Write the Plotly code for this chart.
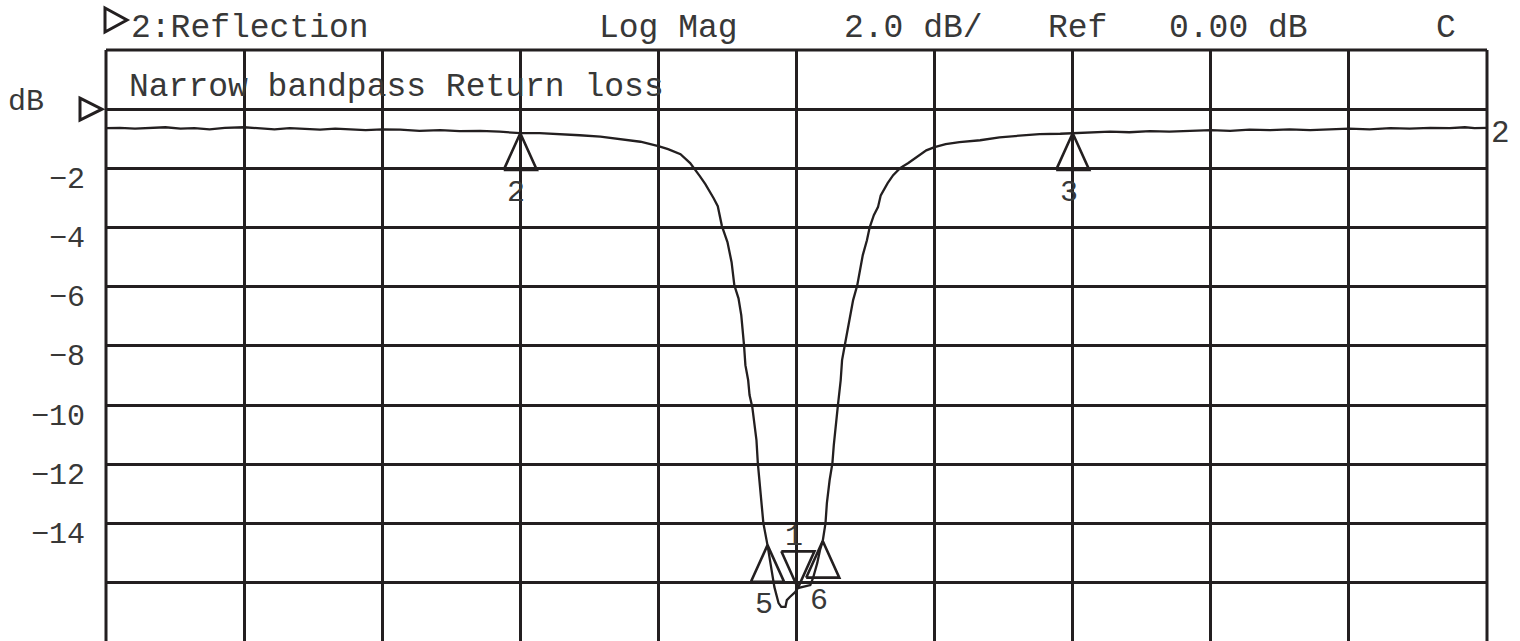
import plotly.graph_objects as go

# ---- data (frequency in grid divisions, 0..10; return loss in dB) ----
freq_div = [0.00, 0.10, 0.21, 0.32, 0.43, 0.54, 0.64, 0.75, 0.86, 1.00,
            1.12, 1.22, 1.33, 1.44, 1.55, 1.66, 1.77, 1.88, 2.00, 2.13,
            2.27, 2.42, 2.56, 2.71, 2.85, 3.00, 3.14, 3.29, 3.43, 3.58,
            3.72, 3.87, 4.00, 4.07, 4.16, 4.23, 4.30, 4.34, 4.40, 4.43,
            4.46, 4.50, 4.53, 4.55, 4.58, 4.60, 4.62, 4.63, 4.65, 4.66,
            4.68, 4.71, 4.72, 4.74, 4.76, 4.79, 4.82, 4.84, 4.87, 4.89,
            4.92, 4.93, 4.95, 4.99, 5.01, 5.04, 5.10, 5.12, 5.15, 5.17,
            5.19, 5.21, 5.22, 5.24, 5.26, 5.27, 5.28, 5.30, 5.32, 5.33,
            5.35, 5.37, 5.39, 5.41, 5.44, 5.46, 5.48, 5.51, 5.53, 5.56,
            5.59, 5.61, 5.66, 5.70, 5.75, 5.81, 5.88, 5.94, 6.00, 6.08,
            6.18, 6.33, 6.47, 6.62, 6.76, 6.91, 7.00, 7.13, 7.27, 7.41,
            7.56, 7.70, 7.85, 8.00, 8.14, 8.28, 8.43, 8.57, 8.72, 8.86,
            9.00, 9.15, 9.30, 9.44, 9.59, 9.73, 9.84, 9.91, 10.00]
s11_db = [-0.64, -0.63, -0.66, -0.64, -0.61, -0.66, -0.64, -0.68, -0.63, -0.61,
          -0.64, -0.68, -0.64, -0.66, -0.69, -0.66, -0.68, -0.71, -0.68, -0.69,
          -0.73, -0.71, -0.74, -0.73, -0.76, -0.81, -0.81, -0.84, -0.88, -0.93,
          -1.00, -1.10, -1.25, -1.35, -1.52, -1.82, -2.26, -2.53, -3.01, -3.28,
          -3.95, -4.49, -5.17, -5.95, -6.39, -6.96, -7.97, -8.65, -9.16, -9.66,
          -10.07, -11.18, -11.96, -13.04, -13.99, -14.73, -15.57, -16.15, -16.69, -16.82,
          -16.82, -16.59, -16.49, -16.32, -16.18, -16.15, -16.08, -15.84, -15.34, -14.90,
          -14.59, -13.99, -13.31, -12.53, -11.96, -11.35, -10.84, -10.00, -9.16, -8.48,
          -7.97, -7.47, -7.03, -6.45, -5.95, -5.37, -4.93, -4.43, -3.99, -3.58,
          -3.31, -2.91, -2.50, -2.23, -1.99, -1.82, -1.59, -1.39, -1.28, -1.18,
          -1.11, -1.05, -0.95, -0.88, -0.84, -0.83, -0.81, -0.78, -0.76, -0.78,
          -0.74, -0.76, -0.73, -0.71, -0.73, -0.69, -0.71, -0.68, -0.71, -0.68,
          -0.66, -0.68, -0.64, -0.66, -0.63, -0.64, -0.61, -0.64, -0.63]

marker_ids = ["2", "3", "5", "6", "1"]
marker_x = [3.00, 7.00, 4.79, 5.19, 5.01]
marker_y = [-0.81, -0.81, -14.73, -14.59, -16.18]
marker_dir = ["up", "up", "up", "up", "down"]

ytick_vals = [0, -2, -4, -6, -8, -10, -12, -14, -16]
ytick_text = ["", "\u22122", "\u22124", "\u22126", "\u22128", "\u221210", "\u221212", "\u221214", ""]

header_texts = ["2:Reflection", "Log Mag", "2.0 dB/", "Ref", "0.00 dB", "C"]
subtitle = "Narrow bandpass Return loss"
trace_label = "2"

# ---- style / layout ----
INK = "#231f20"
TXT = "#383838"
FONT = "Liberation Mono, Courier New, monospace"
W, H = 1520, 641
ML, MR, MT, MB = 106, 33, 50, 0
Y_TOP, Y_BOT = 2.0, -17.97
PW, PH = W - ML - MR, H - MT - MB
TRI_H, TRI_HW = 1.24, 0.12

def px_x(px):
    return (px - ML) / PW

def px_y(py):
    return (H - MB - py) / PH

fig = go.Figure()

fig.add_trace(go.Scatter(x=freq_div, y=s11_db, mode="lines",
                         line=dict(color=INK, width=2.3), hoverinfo="skip",
                         showlegend=False))

# marker triangles
tx, ty = [], []
for mx, my, d in zip(marker_x, marker_y, marker_dir):
    base = my - TRI_H if d == "up" else my + TRI_H
    tx += [mx - TRI_HW, mx, mx + TRI_HW, mx - TRI_HW, None]
    ty += [base, my, base, base, None]
fig.add_trace(go.Scatter(x=tx, y=ty, mode="lines", line=dict(color=INK, width=2.6),
                         hoverinfo="skip", showlegend=False))

annotations = []
for mid, mx, my, d in zip(marker_ids, marker_x, marker_y, marker_dir):
    annotations.append(dict(x=mx, y=my, xref="x", yref="y", text=mid, showarrow=False,
                            xshift=-4, yshift=(-60 if d == "up" else 51),
                            font=dict(family=FONT, size=30, color=TXT)))

# trace end label
annotations.append(dict(x=freq_div[-1], y=s11_db[-1], xref="x", yref="y", text=trace_label,
                        showarrow=False, xanchor="left", xshift=2, yshift=-6,
                        font=dict(family=FONT, size=31, color=TXT)))

# header
header_px = [129, 597, 842, 1046, 1167, 1434]
for t, px in zip(header_texts, header_px):
    annotations.append(dict(x=px_x(px), y=px_y(28), xref="paper", yref="paper", text=t,
                            showarrow=False, xanchor="left", yanchor="middle",
                            font=dict(family=FONT, size=33, color=TXT)))
annotations.append(dict(x=px_x(127), y=px_y(87), xref="paper", yref="paper", text=subtitle,
                        showarrow=False, xanchor="left", yanchor="middle",
                        font=dict(family=FONT, size=33, color=TXT)))
annotations.append(dict(x=px_x(6), y=px_y(102), xref="paper", yref="paper", text="dB",
                        showarrow=False, xanchor="left", yanchor="middle",
                        font=dict(family=FONT, size=30, color=TXT)))

ref_frac = (0 - Y_BOT) / (Y_TOP - Y_BOT)
shapes = [
    dict(type="line", xref="paper", yref="paper", x0=0, x1=0, y0=0, y1=1,
         line=dict(color=INK, width=3)),
    dict(type="line", xref="paper", yref="paper", x0=1, x1=1, y0=0, y1=1,
         line=dict(color=INK, width=3)),
    dict(type="line", xref="paper", yref="paper", x0=0, x1=1, y0=1, y1=1,
         line=dict(color=INK, width=3)),
    # reference level pointer
    dict(type="path", xref="paper", yref="paper", xsizemode="pixel", ysizemode="pixel",
         xanchor=0, yanchor=ref_frac, path="M -26,11 L -4,0 L -26,-11 Z",
         line=dict(color=INK, width=3)),
    # channel pointer in header
    dict(type="path", xref="paper", yref="paper", xsizemode="pixel", ysizemode="pixel",
         xanchor=0, yanchor=1, path="M -1,42 L 21,30 L -1,18 Z",
         line=dict(color=INK, width=3)),
]

fig.update_layout(
    width=W, height=H, margin=dict(l=ML, r=MR, t=MT, b=MB, pad=0),
    paper_bgcolor="white", plot_bgcolor="white",
    annotations=annotations, shapes=shapes, showlegend=False,
    xaxis=dict(range=[0, 10], tickvals=list(range(0, 11)), showticklabels=False,
               showgrid=True, gridcolor=INK, gridwidth=2.6, zeroline=False,
               showline=False, ticks="", fixedrange=True),
    yaxis=dict(range=[Y_BOT, Y_TOP], tickvals=ytick_vals, ticktext=ytick_text,
               showgrid=True, gridcolor=INK, gridwidth=2.6, zeroline=False,
               showline=False, ticks="", ticklabelstandoff=20, ticklabelshift=9,
               tickfont=dict(family=FONT, size=30, color=TXT), fixedrange=True),
)

fig.write_html("out.html", config={"displayModeBar": False},
               post_script="document.body.style.margin='0';")
